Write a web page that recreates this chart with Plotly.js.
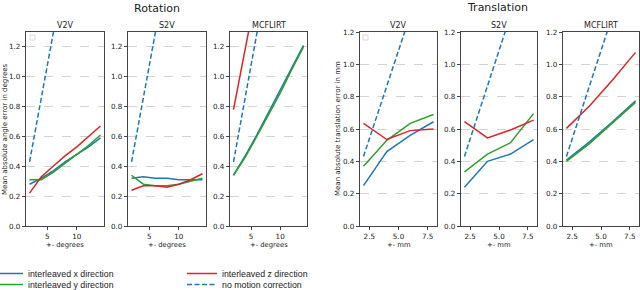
<!DOCTYPE html>
<html>
<head>
<meta charset="utf-8">
<script src="https://cdn.plot.ly/plotly-3.0.1.min.js"></script>
<style>html,body{margin:0;padding:0;background:#fff;}#plot{width:640px;height:290px;}</style>
</head>
<body>
<div id="plot"></div>
<script>
// ---------------- DATA ----------------
const rotX = [2, 4, 6, 8, 10, 12, 14];
const transX = [2, 4, 6, 8];
const methods = ["V2V", "S2V", "MCFLIRT"];

// Rotation (degrees)
const rotV2V_x = [0.28, 0.32, 0.37, 0.43, 0.48, 0.53, 0.59];
const rotV2V_y = [0.31, 0.31, 0.36, 0.42, 0.48, 0.54, 0.61];
const rotV2V_z = [0.22, 0.33, 0.40, 0.47, 0.53, 0.60, 0.67];
const rotS2V_x = [0.32, 0.33, 0.32, 0.32, 0.31, 0.31, 0.31];
const rotS2V_y = [0.34, 0.28, 0.27, 0.27, 0.28, 0.30, 0.32];
const rotS2V_z = [0.24, 0.27, 0.27, 0.26, 0.28, 0.31, 0.35];
const rotMCF_x = [0.34, 0.47, 0.61, 0.76, 0.91, 1.06, 1.21];
const rotMCF_y = [0.34, 0.46, 0.60, 0.74, 0.89, 1.05, 1.20];
const rotMCF_z = [0.78, 1.19, 1.60, 2.00, 2.40, 2.80, 3.20];
const rotNoCorr = [0.43, 0.86, 1.29, 1.72, 2.15, 2.58, 3.01];

// Translation (mm)
const trV2V_x = [0.25, 0.46, 0.56, 0.645];
const trV2V_y = [0.37, 0.53, 0.635, 0.69];
const trV2V_z = [0.635, 0.535, 0.59, 0.60];
const trS2V_x = [0.24, 0.40, 0.445, 0.535];
const trS2V_y = [0.335, 0.445, 0.515, 0.695];
const trS2V_z = [0.645, 0.545, 0.594, 0.655];
const trMCF_x = [0.408, 0.52, 0.645, 0.775];
const trMCF_y = [0.40, 0.51, 0.638, 0.765];
const trMCF_z = [0.604, 0.742, 0.903, 1.074];
const trNoCorr = [0.43, 0.87, 1.30, 1.74];

const seriesNames = ["interleaved x direction", "interleaved y direction", "interleaved z direction", "no motion correction"];
const rotYTicks = [0, 0.2, 0.4, 0.6, 0.8, 1.0, 1.2];
const trYTicks = [0, 0.2, 0.4, 0.6, 0.8, 1.0, 1.2];
const rotXTicks = [5, 10];
const trXTicks = [2.5, 5.0, 7.5];
const rotXTickText = ["5", "10"];
const trXTickText = ["2.5", "5.0", "7.5"];

// ---------------- STYLE ----------------
const W = 640, H = 290;
const colors = ["#1f77b4", "#2ca02c", "#d62728", "#1f77b4"];
const dashes = ["solid", "solid", "solid", "5px,2.5px"];
const legendIds = ["legend", "legend2", "legend3", "legend4"];
const FONT = "DejaVu Sans, sans-serif";
const LFONT = "Liberation Sans, Arial, sans-serif";

const rotData = [
  [rotV2V_x, rotV2V_y, rotV2V_z, rotNoCorr],
  [rotS2V_x, rotS2V_y, rotS2V_z, rotNoCorr],
  [rotMCF_x, rotMCF_y, rotMCF_z, rotNoCorr]
];
const trData = [
  [trV2V_x, trV2V_y, trV2V_z, trNoCorr],
  [trS2V_x, trS2V_y, trS2V_z, trNoCorr],
  [trMCF_x, trMCF_y, trMCF_z, trNoCorr]
];

// panel pixel boxes [left, right]
const panelX = [[26, 104], [128, 206], [230, 307], [360, 437], [461, 537], [563, 639]];
const panelTop = 32, panelBottom = 226;

const traces = [];
function addPanel(idx, xs, seriesArr) {
  const ax = idx === 0 ? "" : String(idx + 1);
  [0, 1, 2, 3].forEach(function (s) {
    traces.push({
      type: "scatter", mode: "lines",
      x: xs, y: seriesArr[s],
      xaxis: "x" + ax, yaxis: "y" + ax,
      name: seriesNames[s],
      line: {color: colors[s], width: 1.5, dash: dashes[s]},
      showlegend: idx === 0,
      legend: legendIds[s],
      hoverinfo: "skip"
    });
  });
}
rotData.forEach(function (d, i) { addPanel(i, rotX, d); });
trData.forEach(function (d, i) { addPanel(i + 3, transX, d); });

const layout = {
  width: W, height: H,
  margin: {l: 0, r: 0, t: 0, b: 0, pad: 0, autoexpand: false},
  paper_bgcolor: "#fff", plot_bgcolor: "#fff",
  font: {family: FONT, size: 7, color: "#222"},
  annotations: [], shapes: []
};

for (let i = 0; i < 6; i++) {
  const ax = i === 0 ? "" : String(i + 1);
  const isRot = i < 3;
  layout["xaxis" + ax] = {
    domain: [panelX[i][0] / W, panelX[i][1] / W],
    anchor: "y" + ax,
    range: isRot ? [1.4, 14.6] : [1.7, 8.3],
    tickvals: isRot ? rotXTicks : trXTicks,
    ticktext: isRot ? rotXTickText : trXTickText,
    ticks: "outside", ticklen: 3, tickwidth: 1, tickcolor: "#444",
    showline: true, mirror: true, linecolor: "#444", linewidth: 1.2,
    showgrid: false, zeroline: false, automargin: false,
    tickfont: {size: 7.2, family: FONT, color: "#222"}, fixedrange: true
  };
  layout["yaxis" + ax] = {
    domain: [1 - panelBottom / H, 1 - panelTop / H],
    anchor: "x" + ax,
    range: isRot ? [0, 1.3] : [0, 1.2],
    tickvals: isRot ? rotYTicks : trYTicks,
    tickformat: ".1f",
    ticks: "outside", ticklen: 3, tickwidth: 1, tickcolor: "#444",
    showline: true, mirror: true, linecolor: "#444", linewidth: 1.2,
    showgrid: true, gridcolor: "#c8c8c8", gridwidth: 0.8, griddash: "dash",
    zeroline: false, automargin: false,
    tickfont: {size: 7.2, family: FONT, color: "#222"}, fixedrange: true
  };
  const cx = (panelX[i][0] + panelX[i][1]) / 2;
  layout.annotations.push({
    text: methods[i % 3], xref: "paper", yref: "paper",
    x: cx / W, y: 1 - 25 / H, xanchor: "center", yanchor: "middle",
    showarrow: false, font: {size: 8, family: FONT, color: "#222"}
  });
  layout.annotations.push({
    text: isRot ? "+- degrees" : "+- mm", xref: "paper", yref: "paper",
    x: cx / W, y: 1 - 245 / H, xanchor: "center", yanchor: "middle",
    showarrow: false, font: {size: 6.8, family: FONT, color: "#222"}
  });
}

// group titles
layout.annotations.push({text: "Rotation", xref: "paper", yref: "paper", x: 157 / W, y: 1 - 8 / H,
  xanchor: "center", yanchor: "middle", showarrow: false, font: {size: 11, family: FONT, color: "#222"}});
layout.annotations.push({text: "Translation", xref: "paper", yref: "paper", x: 497 / W, y: 1 - 7 / H,
  xanchor: "center", yanchor: "middle", showarrow: false, font: {size: 11, family: FONT, color: "#222"}});
// y axis titles
layout.annotations.push({text: "Mean absolute angle error in degrees", xref: "paper", yref: "paper",
  x: 5 / W, y: 1 - 129 / H, textangle: -90, xanchor: "center", yanchor: "middle", showarrow: false,
  font: {size: 7, family: FONT, color: "#222"}});
layout.annotations.push({text: "Mean absolute translation error in mm", xref: "paper", yref: "paper",
  x: 338 / W, y: 1 - 129 / H, textangle: -90, xanchor: "center", yanchor: "middle", showarrow: false,
  font: {size: 7, family: FONT, color: "#222"}});

// empty matplotlib legend boxes
[[30, 35], [363, 368]].forEach(function (b) {
  layout.shapes.push({type: "rect", xref: "paper", yref: "paper",
    x0: b[0] / W, x1: b[1] / W, y0: 1 - 40 / H, y1: 1 - 35 / H,
    line: {color: "#d0d0d0", width: 0.8}, fillcolor: "#fff"});
});

// legends
const legPos = [[-12, 273.5], [-12, 284.5], [182, 273.5], [182, 284.5]];
legendIds.forEach(function (id, k) {
  layout[id] = {
    xref: "paper", yref: "paper",
    x: legPos[k][0] / W, y: 1 - legPos[k][1] / H,
    xanchor: "left", yanchor: "middle",
    bgcolor: "rgba(0,0,0,0)", borderwidth: 0,
    font: {size: 8.8, family: LFONT, color: "#222"},
    itemwidth: 30, tracegroupgap: 0
  };
});

Plotly.newPlot("plot", traces, layout, {displayModeBar: false, staticPlot: true});
</script>
</body>
</html>
